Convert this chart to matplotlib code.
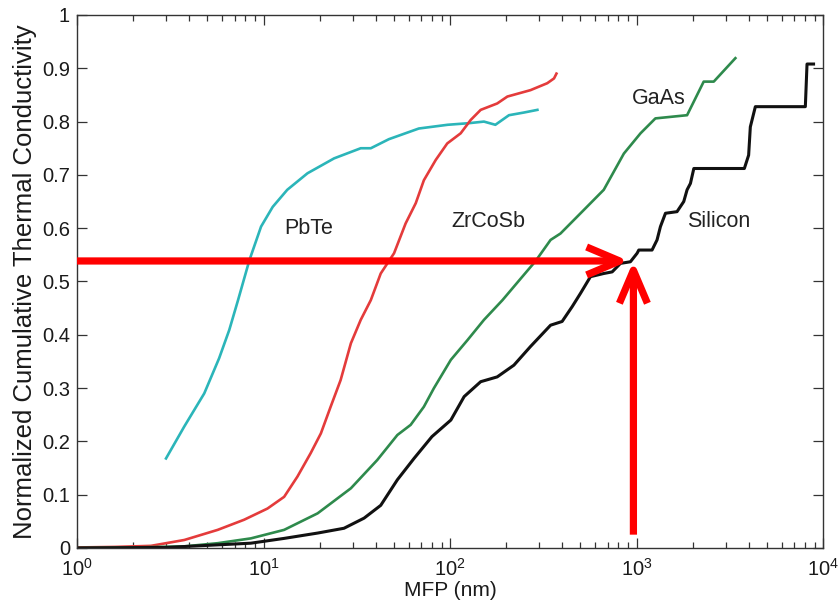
import matplotlib
matplotlib.use("Agg")
import matplotlib.pyplot as plt
from matplotlib.ticker import LogLocator, NullFormatter, MultipleLocator

plt.rcParams["font.family"] = ["Liberation Sans", "DejaVu Sans"]
plt.rcParams["mathtext.fontset"] = "custom"
plt.rcParams["mathtext.rm"] = "Liberation Sans"
plt.rcParams["mathtext.it"] = "Liberation Sans"

# Cumulative thermal conductivity vs phonon mean free path (nm)
pbte_mfp = [3.0, 3.76, 4.81, 5.78, 6.55, 7.3, 8.4, 9.7, 11.2, 13.4, 17.2, 23.9,
            33.2, 37.6, 47, 68, 97, 126, 152, 175, 207, 249, 294]
pbte_k = [0.168, 0.228, 0.290, 0.356, 0.409, 0.465, 0.540, 0.603, 0.640, 0.672,
          0.703, 0.731, 0.750, 0.750, 0.767, 0.787, 0.794, 0.797, 0.800, 0.794,
          0.812, 0.817, 0.822]

zrcosb_mfp = [1.0, 1.6, 2.49, 3.76, 5.68, 7.87, 10.5, 12.9, 15.2, 17.9, 20.3,
              22.9, 25.9, 29.4, 33.2, 37.6, 42.5, 50.1, 57.8, 65.5, 72.4, 83.8,
              96.6, 114, 129, 146, 179, 203, 270, 332, 361, 372]
zrcosb_k = [0.001, 0.002, 0.004, 0.015, 0.034, 0.053, 0.074, 0.096, 0.134, 0.178,
            0.215, 0.265, 0.315, 0.384, 0.428, 0.465, 0.515, 0.553, 0.609, 0.647,
            0.690, 0.728, 0.759, 0.778, 0.803, 0.822, 0.834, 0.847, 0.859, 0.872,
            0.881, 0.890]

gaas_mfp = [1.0, 2.0, 3.76, 5.68, 8.55, 12.9, 19.5, 29.4, 40.7, 52.2, 61.5, 72.4,
            82, 101, 124, 152, 191, 236, 287, 346, 391, 501, 667, 855, 1050, 1262,
            1866, 2291, 2594, 3388]
gaas_k = [0.0, 0.001, 0.003, 0.009, 0.018, 0.034, 0.065, 0.112, 0.165, 0.212,
          0.231, 0.265, 0.300, 0.353, 0.390, 0.428, 0.465, 0.503, 0.538, 0.578,
          0.590, 0.628, 0.672, 0.740, 0.778, 0.806, 0.812, 0.875, 0.875, 0.919]

si_mfp = [1.0, 3.0, 8.55, 12.9, 19.5, 27, 34.6, 42.5, 52.2, 64.1, 80, 101, 119,
          146, 179, 220, 270, 346, 399, 452, 501, 566, 667, 740, 820, 927, 1007,
          1028, 1211, 1288, 1343, 1429, 1648, 1791, 1866, 1945, 2028, 3784, 3990,
          4074, 4335, 8035, 8204, 8892]
si_k = [0.0, 0.001, 0.009, 0.018, 0.028, 0.037, 0.056, 0.080, 0.128, 0.168,
        0.209, 0.240, 0.284, 0.312, 0.321, 0.343, 0.378, 0.418, 0.425, 0.453,
        0.478, 0.509, 0.515, 0.518, 0.534, 0.537, 0.553, 0.559, 0.559, 0.578,
        0.603, 0.628, 0.631, 0.650, 0.672, 0.684, 0.712, 0.712, 0.737, 0.790,
        0.828, 0.828, 0.908, 0.908]

# Reading guide: 1 um mean free path -> ~54% of conductivity in silicon
guide_k = 0.5385
guide_mfp_tip = 910
guide_mfp = 962
guide_k_start = 0.025

fig = plt.figure(figsize=(8.39, 6.12), dpi=100)
ax = fig.add_axes([0.0918, 0.1046, 0.8892, 0.8709])

lw = 1.9
ax.plot(pbte_mfp, pbte_k, color="#2bb5b9", lw=lw)
ax.plot(zrcosb_mfp, zrcosb_k, color="#e43b3b", lw=lw)
ax.plot(gaas_mfp, gaas_k, color="#2e8a4c", lw=lw)
ax.plot(si_mfp, si_k, color="#111111", lw=lw + 0.3)

ax.set_xscale("log")
ax.set_xlim(1, 1e4)
ax.set_ylim(0, 1)
ax.yaxis.set_major_locator(MultipleLocator(0.1))
ax.yaxis.set_major_formatter(plt.FuncFormatter(lambda v, p: "0" if v == 0 else ("1" if abs(v - 1) < 1e-9 else f"{v:.1f}")))
ax.xaxis.set_major_locator(LogLocator(base=10, numticks=10))
ax.xaxis.set_minor_locator(LogLocator(base=10, subs=range(2, 10), numticks=40))
ax.xaxis.set_minor_formatter(NullFormatter())

ax.tick_params(which="both", direction="in", top=True, right=True,
               labelsize=14.5, color="#333333", width=0.9, labelcolor="#1a1a1a")
ax.tick_params(which="major", length=7, pad=5)
ax.tick_params(axis="x", which="major", pad=7)
ax.tick_params(which="minor", length=4)
for s in ax.spines.values():
    s.set_color("#333333")
    s.set_linewidth(1.0)

ax.set_xlabel("MFP (nm)", fontsize=15, labelpad=1, color="#1a1a1a")
ax.set_ylabel("Normalized Cumulative Thermal Conductivity", fontsize=18.5,
              labelpad=4, color="#1a1a1a")

label_kw = dict(fontsize=15.5, ha="center", va="center", color="#222222")
ax.text(17.5, 0.600, "PbTe", **label_kw)
ax.text(161, 0.612, "ZrCoSb", **label_kw)
ax.text(1310, 0.844, "GaAs", **label_kw)
ax.text(2750, 0.612, "Silicon", **label_kw)

arrow_props = dict(arrowstyle="->,head_length=0.85,head_width=0.36", lw=5.2,
                   color="#ff0000", shrinkA=0, shrinkB=0, mutation_scale=28,
                   capstyle="butt", joinstyle="round")
ax.annotate("", xy=(guide_mfp_tip, guide_k), xytext=(1, guide_k),
            arrowprops=arrow_props)
ax.annotate("", xy=(guide_mfp, guide_k), xytext=(guide_mfp, guide_k_start),
            arrowprops=arrow_props)

fig.savefig("out.png", dpi=100)
